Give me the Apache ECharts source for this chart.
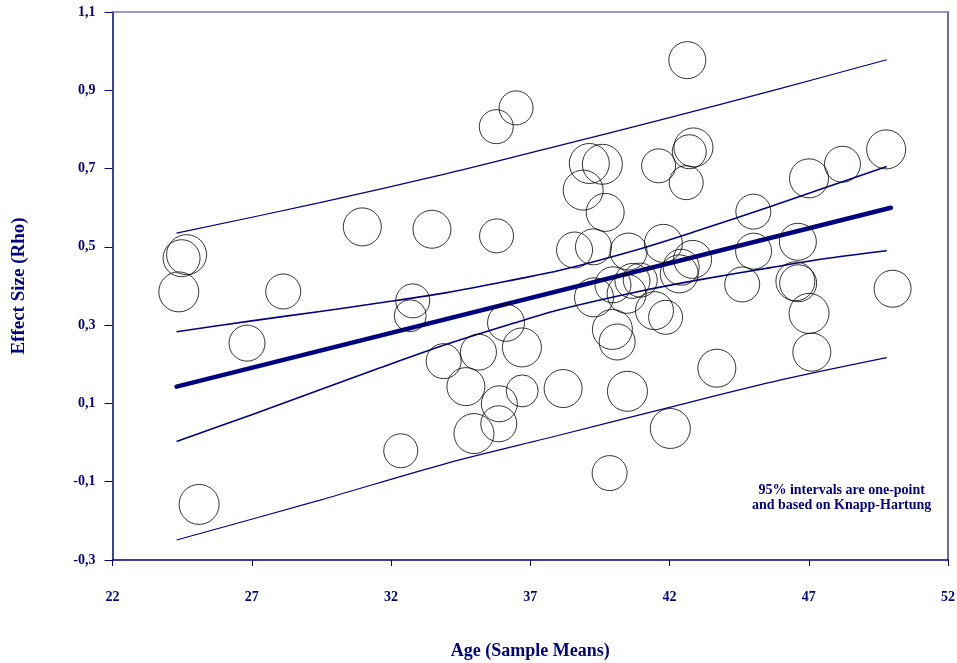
<!DOCTYPE html>
<html lang="en">
<head>
  <meta charset="UTF-8">
  <title>Effect Size vs Age</title>
  <script src="https://cdn.jsdelivr.net/npm/echarts@6/dist/echarts.min.js"></script>
  <style>
    body { margin: 0; background: #fff; }
  </style>
</head>
<body>
  <div id="main" style="width: 957px;height:663px;"></div>
<script>
  // bubbles: age, rho, diameter (px)
  const bubbleAge = [42.64, 36.49, 35.78, 30.97, 33.47, 35.79, 39.12, 39.59, 38.90, 39.69,
    38.59, 39.27, 40.53, 41.61, 42.86, 42.71, 42.60, 41.78, 42.83, 45.01,
    39.29, 39.97, 40.46, 40.67, 40.95, 41.46, 41.86, 39.95, 40.12, 38.18,
    40.49, 43.70, 42.03, 39.85, 47.01, 48.21, 49.78, 45.02, 46.61, 44.61,
    46.52, 46.62, 47.01, 47.11, 50.01, 32.78, 32.69, 36.13, 33.89, 35.14,
    36.70, 34.69, 35.89, 36.71, 34.98, 35.87, 32.35, 24.66, 24.48, 24.38,
    28.13, 26.83, 25.11, 42.42, 42.35];
  const bubbleRho = [0.977, 0.855, 0.807, 0.551, 0.545, 0.528, 0.713, 0.711, 0.645, 0.588,
    0.492, 0.500, 0.488, 0.707, 0.754, 0.743, 0.664, 0.509, 0.468, 0.590,
    0.371, 0.403, 0.380, 0.413, 0.415, 0.337, 0.320, 0.289, 0.257, 0.138,
    0.131, 0.190, 0.036, -0.078, 0.675, 0.711, 0.749, 0.489, 0.513, 0.404,
    0.412, 0.407, 0.330, 0.231, 0.393, 0.362, 0.324, 0.306, 0.208, 0.231,
    0.243, 0.143, 0.099, 0.132, 0.023, 0.048, -0.021, 0.480, 0.471, 0.385,
    0.386, 0.254, -0.158, 0.448, 0.431];
  const bubbleSize = [37, 34, 34, 38, 38, 34, 40, 40, 40, 38,
    36, 36, 37, 34, 39, 34, 34, 38, 38, 35,
    39, 36, 39, 35, 34, 38, 34, 40, 36, 38,
    40, 38, 40, 35, 39, 36, 39, 36, 37, 35,
    39, 37, 40, 38, 37, 34, 32, 37, 35, 36,
    39, 38, 36, 32, 40, 36, 34, 40, 37, 40,
    35, 36, 40, 36, 38];

  // regression line
  const fitAge = [24.3, 49.95];
  const fitRho = [0.143, 0.600];

  // 95% confidence band
  const ciAge = [24.3, 27, 29.45, 31.61, 34, 36.5, 38.07, 40.9, 43, 45.63, 47.5, 49.8];
  const ciUpper = [0.283, 0.311, 0.335, 0.357, 0.383, 0.417, 0.440, 0.494, 0.541, 0.603, 0.649, 0.705];
  const ciLower = [0.003, 0.071, 0.135, 0.191, 0.251, 0.307, 0.340, 0.386, 0.415, 0.447, 0.469, 0.490];

  // 95% prediction band
  const piAge = [24.3, 29.45, 34, 38, 42, 46, 49.8];
  const piUpper = [0.535, 0.613, 0.687, 0.758, 0.830, 0.905, 0.978];
  const piLower = [-0.249, -0.147, -0.053, 0.018, 0.090, 0.160, 0.217];

  const xTicks = [22, 27, 32, 37, 42, 47, 52];
  const yTicks = [-0.3, -0.1, 0.1, 0.3, 0.5, 0.7, 0.9, 1.1];

  const navy = '#000080';
  const font = '"Liberation Serif", "Times New Roman", serif';

  const pairs = (xs, ys) => xs.map((x, i) => [x, ys[i]]);

  var myChart = echarts.init(document.getElementById('main'));

  function bandLine(xs, ys, width) {
    return {
      type: 'line',
      data: pairs(xs, ys),
      showSymbol: false,
      smooth: 0.3,
      lineStyle: { color: navy, width: width },
      z: 2
    };
  }

  var option = {
    animation: false,
    grid: { left: 112.5, right: 9, top: 12, bottom: 103, outerBoundsMode: 'none' },
    xAxis: [
      {
        type: 'value',
        min: 22,
        max: 52,
        name: 'Age (Sample Means)',
        nameLocation: 'middle',
        nameGap: 82,
        nameTextStyle: { color: navy, fontFamily: font, fontWeight: 'bold', fontSize: 18 },
        axisLine: { show: true, onZero: false, lineStyle: { color: navy, width: 1.5 } },
        axisTick: { show: true, length: 6, customValues: xTicks, lineStyle: { color: navy } },
        axisLabel: {
          customValues: xTicks,
          margin: 30,
          color: navy,
          fontFamily: font,
          fontWeight: 'bold',
          fontSize: 14
        },
        splitLine: { show: false }
      },
      {
        type: 'value',
        position: 'top',
        min: 22,
        max: 52,
        axisLine: { show: true, onZero: false, lineStyle: { color: '#7a7abf', width: 1.5 } },
        axisTick: { show: false },
        axisLabel: { show: false },
        splitLine: { show: false }
      }
    ],
    yAxis: [
      {
        type: 'value',
        min: -0.3,
        max: 1.1,
        name: 'Effect Size (Rho)',
        nameLocation: 'middle',
        nameGap: 84,
        nameTextStyle: { color: navy, fontFamily: font, fontWeight: 'bold', fontSize: 19 },
        axisLine: { show: true, onZero: false, lineStyle: { color: navy, width: 1.5 } },
        axisTick: { show: true, length: 8, customValues: yTicks, lineStyle: { color: navy } },
        axisLabel: {
          customValues: yTicks,
          margin: 17,
          color: navy,
          fontFamily: font,
          fontWeight: 'bold',
          fontSize: 14,
          formatter: (v) => v.toFixed(1).replace('.', ',')
        },
        splitLine: { show: false }
      },
      {
        type: 'value',
        position: 'right',
        min: -0.3,
        max: 1.1,
        axisLine: { show: true, onZero: false, lineStyle: { color: '#3a3aa8', width: 1.5 } },
        axisTick: { show: false },
        axisLabel: { show: false },
        splitLine: { show: false }
      }
    ],
    graphic: [
      {
        type: 'text',
        left: 752,
        top: 483,
        style: {
          text: '95% intervals are one-point\nand based on Knapp-Hartung',
          fill: navy,
          font: 'bold 14px ' + font,
          textAlign: 'center',
          lineHeight: 15
        }
      }
    ],
    series: [
      {
        type: 'scatter',
        data: bubbleAge.map((x, i) => [x, bubbleRho[i], bubbleSize[i]]),
        symbolSize: (v) => v[2],
        itemStyle: { color: 'rgba(0,0,0,0)', borderColor: '#000', borderWidth: 1 },
        z: 3
      },
      bandLine(piAge, piUpper, 1.2),
      bandLine(piAge, piLower, 1.2),
      bandLine(ciAge, ciUpper, 1.6),
      bandLine(ciAge, ciLower, 1.6),
      {
        type: 'line',
        data: pairs(fitAge, fitRho),
        showSymbol: false,
        lineStyle: { color: navy, width: 4.5, cap: 'round' },
        z: 2
      }
    ]
  };
  myChart.setOption(option);
</script>
</body>
</html>
